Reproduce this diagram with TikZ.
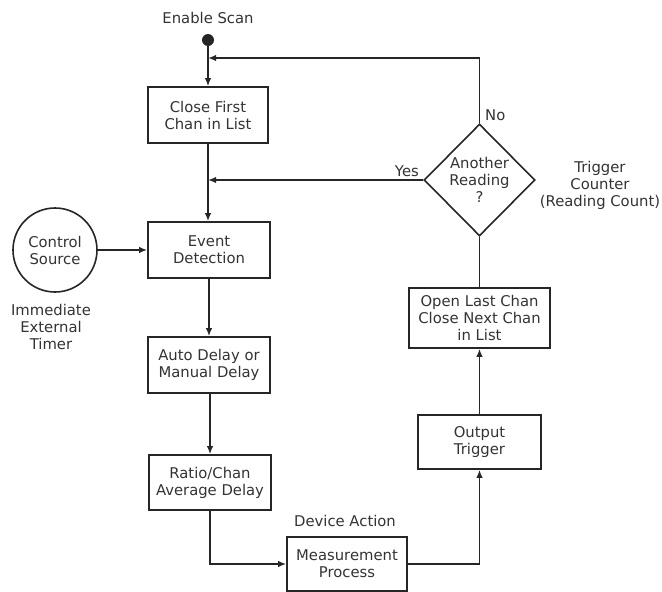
\documentclass[tikz,border=0pt]{standalone}
\usepackage{fontspec}
\setmainfont{DejaVu Sans}
\usetikzlibrary{shapes.geometric,arrows.meta}
\begin{document}
\begin{tikzpicture}[x=1pt,y=-1pt,
  every node/.style={font=\fontsize{14.8}{17}\selectfont, text=black!80},
  box/.style={draw=black!85, line width=1.6pt, align=center, inner sep=0pt},
  lbl/.style={align=center, inner sep=0pt},
  conn/.style={draw=black!85, line width=1.6pt},
  arr/.style={conn, -{Latex[length=8pt,width=6.5pt]}}]
\useasboundingbox (0,0) rectangle (662,592);
\node[lbl] (enable) at (208,18) {Enable Scan};
\node[circle, fill=black!85, minimum size=12pt, inner sep=0pt] (dot) at (208,40) {};
\node[box, minimum width=120pt, minimum height=56pt] (close) at (208,115) {Close First\\Chan in List};
\node[box, minimum width=122pt, minimum height=56pt] (event) at (209,250) {Event\\Detection};
\node[circle, draw=black!85, line width=1.6pt, minimum size=84pt, inner sep=0pt, align=center] (ctrl) at (55,250) {Control\\Source};
\node[lbl] (imm) at (51,327) {Immediate\\External\\Timer};
\node[box, minimum width=122pt, minimum height=56pt] (auto) at (209,365) {Auto Delay or\\Manual Delay};
\node[box, minimum width=122pt, minimum height=55pt] (ratio) at (210,482.5) {Ratio/Chan\\Average Delay};
\node[lbl] (devact) at (345,521) {Device Action};
\node[box, minimum width=120pt, minimum height=54pt] (meas) at (347,564) {Measurement\\Process};
\node[box, minimum width=123pt, minimum height=54pt] (out) at (479.5,442) {Output\\Trigger};
\node[box, minimum width=141pt, minimum height=60pt] (open) at (479.5,318) {Open Last Chan\\Close Next Chan\\in List};
\node[diamond, draw=black!85, line width=1.6pt, minimum width=111pt, minimum height=112pt, inner sep=0pt, align=center] (dec) at (479.5,180) {Another\\Reading\\?};
\node[lbl] (trig) at (600,185) {Trigger\\Counter\\(Reading Count)};
\node[lbl, anchor=south west] (no) at (485,121) {No};
\node[lbl, anchor=south east] (yes) at (419,177) {Yes};
\coordinate (topc) at (479.5,58);
\coordinate (topj) at (208,58);
\coordinate (yesj) at (208,180);
\coordinate (rc) at (210,564);
\coordinate (mc) at (479.5,564);
% connectors
\draw[arr] (dot) -- (close);
\draw[arr] (close) -- (event.north -| close.south);
\draw[arr] (ctrl) -- (event);
\draw[arr] (event) -- (auto);
\draw[arr] (auto.south -| ratio.north) -- (ratio.north);
\draw[arr] (ratio.south) -- (rc) -- (meas.west);
\draw[arr] (meas.east) -- (mc) -- (out.south);
\draw[arr] (out) -- (open);
\draw[conn] (open.north) -- (dec.south);
\draw[arr] (dec.north) -- (topc) -- (topj);
\draw[arr] (dec.west) -- (yesj);
\end{tikzpicture}
\end{document}
